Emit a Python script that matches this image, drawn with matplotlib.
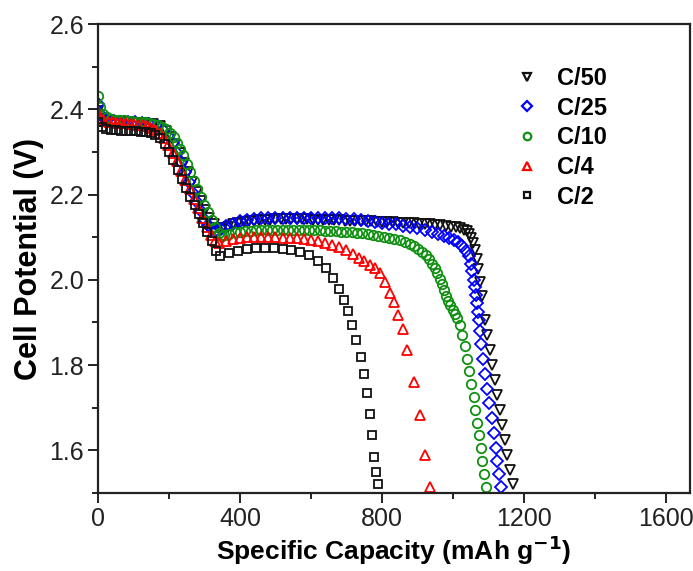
import matplotlib
matplotlib.use("Agg")
import matplotlib.pyplot as plt
from matplotlib.lines import Line2D

plt.rcParams['font.family'] = ['Liberation Sans', 'DejaVu Sans']

# ---------------- data ----------------
labels = ["C/50", "C/25", "C/10", "C/4", "C/2"]

# C/50 (black down-triangles)
x_c50 = [0, 12, 30, 55, 80, 105, 130, 155, 175, 192, 206, 218, 230, 242, 254, 266, 278, 290, 302, 314,
         326, 338, 350, 365, 380, 395, 410, 425, 440, 455, 470, 485, 500, 515, 530, 545, 560, 575, 590,
         605, 620, 635, 650, 665, 680, 695, 710, 725, 740, 755, 770, 785, 800, 815, 830, 845, 860, 875,
         890, 905, 920, 935, 950, 965, 980, 995, 1008, 1020, 1030, 1039, 1046, 1052, 1057, 1062, 1067,
         1071, 1076, 1081, 1090, 1097, 1104, 1111, 1118, 1125, 1132, 1139, 1146, 1153, 1160, 1168]
y_c50 = [2.395, 2.378, 2.372, 2.370, 2.369, 2.368, 2.367, 2.365, 2.360, 2.350, 2.336, 2.318, 2.297, 2.275,
         2.252, 2.229, 2.206, 2.184, 2.163, 2.145, 2.131, 2.122, 2.120, 2.125, 2.130, 2.133, 2.136, 2.138,
         2.139, 2.140, 2.141, 2.141, 2.142, 2.142, 2.142, 2.142, 2.142, 2.142, 2.142, 2.141, 2.141, 2.141,
         2.140, 2.140, 2.140, 2.139, 2.139, 2.138, 2.138, 2.137, 2.137, 2.136, 2.136, 2.135, 2.135, 2.134,
         2.134, 2.133, 2.133, 2.132, 2.131, 2.130, 2.129, 2.128, 2.127, 2.125, 2.123, 2.121, 2.118, 2.114,
         2.108, 2.099, 2.087, 2.070, 2.050, 2.025, 1.995, 1.962, 1.905, 1.870, 1.835, 1.800, 1.765, 1.730,
         1.695, 1.660, 1.625, 1.590, 1.555, 1.520]

# C/25 (blue diamonds)
x_c25 = [0, 10, 25, 45, 65, 85, 105, 125, 145, 165, 182, 197, 210, 222, 233, 244, 255, 266, 277, 288,
         299, 310, 322, 334, 346, 360, 380, 400, 420, 440, 460, 480, 500, 520, 540, 560, 580, 600, 620,
         640, 660, 680, 700, 720, 740, 760, 780, 800, 820, 840, 860, 880, 900, 920, 940, 958, 975, 990,
         1003, 1015, 1026, 1036, 1044, 1050, 1055, 1059, 1063, 1066, 1069, 1071, 1073, 1076, 1080, 1085,
         1091, 1097, 1103, 1109, 1115, 1120, 1125, 1130, 1135]
y_c25 = [2.412, 2.385, 2.375, 2.372, 2.371, 2.370, 2.369, 2.368, 2.366, 2.361, 2.352, 2.338, 2.320, 2.298,
         2.276, 2.253, 2.230, 2.207, 2.185, 2.163, 2.143, 2.128, 2.119, 2.117, 2.119, 2.126, 2.132, 2.137,
         2.140, 2.142, 2.144, 2.145, 2.146, 2.146, 2.146, 2.146, 2.146, 2.146, 2.146, 2.145, 2.145, 2.144,
         2.143, 2.142, 2.140, 2.138, 2.136, 2.134, 2.132, 2.130, 2.127, 2.124, 2.121, 2.117, 2.112, 2.107,
         2.102, 2.098, 2.094, 2.088, 2.079, 2.068, 2.055, 2.038, 2.020, 2.000, 1.982, 1.964, 1.945, 1.925,
         1.905, 1.880, 1.850, 1.815, 1.780, 1.745, 1.710, 1.675, 1.640, 1.605, 1.575, 1.545, 1.515]

# C/10 (green circles)
x_c10 = [0, 6, 14, 24, 36, 48, 60, 72, 84, 96, 108, 120, 132, 144, 156, 168, 180, 192, 203, 213, 222,
         231, 240, 250, 260, 270, 280, 290, 300, 310, 320, 330, 340, 348, 355, 370, 385, 400, 415, 430,
         445, 460, 475, 490, 505, 520, 535, 550, 565, 580, 595, 610, 625, 640, 655, 670, 685, 700, 715,
         730, 745, 760, 775, 790, 805, 820, 835, 850, 865, 878, 890, 902, 913, 923, 932, 941, 949, 956,
         963, 969, 975, 981, 987, 993, 999, 1005, 1012, 1020, 1027, 1034, 1040, 1046, 1052, 1058, 1063,
         1068, 1073, 1078, 1083, 1088, 1093]
y_c10 = [2.430, 2.405, 2.390, 2.382, 2.378, 2.376, 2.375, 2.374, 2.373, 2.372, 2.371, 2.370, 2.369,
         2.368, 2.366, 2.363, 2.359, 2.353, 2.345, 2.335, 2.322, 2.307, 2.292, 2.272, 2.252, 2.232,
         2.212, 2.194, 2.176, 2.158, 2.140, 2.124, 2.110, 2.103, 2.104, 2.108, 2.111, 2.113, 2.114,
         2.115, 2.116, 2.117, 2.117, 2.118, 2.118, 2.118, 2.118, 2.118, 2.118, 2.117, 2.117, 2.116,
         2.116, 2.115, 2.115, 2.114, 2.113, 2.112, 2.111, 2.110, 2.109, 2.107, 2.105, 2.103, 2.101,
         2.099, 2.096, 2.093, 2.089, 2.084, 2.079, 2.073, 2.066, 2.058, 2.049, 2.038, 2.027, 2.015,
         2.003, 1.990, 1.977, 1.963, 1.950, 1.940, 1.930, 1.920, 1.910, 1.895, 1.870, 1.845, 1.815,
         1.785, 1.755, 1.725, 1.695, 1.665, 1.635, 1.605, 1.575, 1.545, 1.515]

# C/4 (red up-triangles)
x_c4 = [0, 8, 18, 30, 42, 54, 66, 78, 90, 102, 114, 126, 138, 150, 162, 174, 186, 198, 210, 222, 234,
        246, 258, 270, 282, 294, 306, 318, 330, 342, 360, 380, 400, 420, 440, 460, 480, 500, 520, 540,
        560, 580, 600, 620, 640, 660, 680, 700, 718, 735, 750, 765, 780, 794, 808, 822, 834, 846, 858,
        870, 890, 907, 921, 935]
y_c4 = [2.392, 2.378, 2.372, 2.370, 2.369, 2.368, 2.368, 2.367, 2.366, 2.365, 2.364, 2.362, 2.360,
        2.357, 2.352, 2.344, 2.332, 2.316, 2.298, 2.278, 2.256, 2.234, 2.212, 2.190, 2.168, 2.146,
        2.124, 2.104, 2.090, 2.086, 2.092, 2.096, 2.099, 2.100, 2.101, 2.101, 2.101, 2.100, 2.099,
        2.098, 2.097, 2.095, 2.093, 2.090, 2.086, 2.082, 2.076, 2.069, 2.061, 2.052, 2.043, 2.035,
        2.027, 2.017, 1.995, 1.970, 1.948, 1.918, 1.885, 1.835, 1.760, 1.684, 1.590, 1.513]

# C/2 (black squares)
x_c2 = [0, 10, 22, 36, 50, 64, 78, 92, 106, 120, 134, 148, 162, 175, 188, 200, 212, 224, 236, 248,
        260, 272, 284, 296, 308, 320, 332, 344, 370, 395, 420, 445, 470, 495, 520, 545, 570, 595, 620,
        643, 662, 678, 692, 704, 716, 728, 740, 750, 759, 766, 773, 779, 784, 789]
y_c2 = [2.370, 2.358, 2.354, 2.352, 2.351, 2.350, 2.350, 2.349, 2.348, 2.347, 2.346, 2.344, 2.340,
        2.332, 2.318, 2.300, 2.280, 2.258, 2.236, 2.215, 2.195, 2.175, 2.155, 2.134, 2.112, 2.090,
        2.068, 2.056, 2.062, 2.068, 2.072, 2.074, 2.075, 2.075, 2.073, 2.070, 2.066, 2.058, 2.045,
        2.028, 2.005, 1.978, 1.952, 1.926, 1.895, 1.860, 1.820, 1.780, 1.735, 1.685, 1.635, 1.585,
        1.550, 1.520]

series_x = [x_c50, x_c25, x_c10, x_c4, x_c2]
series_y = [y_c50, y_c25, y_c10, y_c4, y_c2]
markers = ["v", "D", "o", "^", "s"]
msizes = [7.0, 6.0, 6.8, 7.0, 6.0]
colors = ["#111111", "#0000ff", "#109010", "#ff0000", "#111111"]

x_ticks = [0, 400, 800, 1200, 1600]
y_ticks = [1.6, 1.8, 2.0, 2.2, 2.4, 2.6]

# ---------------- figure ----------------
fig = plt.figure(figsize=(6.93, 5.71), dpi=100)
ax = fig.add_axes([98 / 693, 78 / 571, 592 / 693, 469 / 571])

for xs, ys, m, ms, c, lab in zip(series_x, series_y, markers, msizes, colors, labels):
    ax.plot(xs, ys, linestyle="none", marker=m, markersize=ms, markerfacecolor="none",
            markeredgecolor=c, markeredgewidth=1.3, label=lab, clip_on=True)

ax.set_xlim(0, 1668)
ax.set_ylim(1.5, 2.6)
ax.set_xticks(x_ticks)
ax.set_yticks(y_ticks)
ax.set_xticks([200, 600, 1000, 1400], minor=True)
ax.set_yticks([1.5, 1.7, 1.9, 2.1, 2.3, 2.5], minor=True)
ax.set_yticklabels([f"{v:.1f}" for v in y_ticks])
ax.tick_params(axis="both", which="major", direction="out", length=7, width=1.4,
               labelsize=18, pad=3, colors="#222222", labelcolor="#222222")
ax.tick_params(axis="both", which="minor", direction="out", length=4, width=1.4, colors="#222222")
for s in ax.spines.values():
    s.set_linewidth(1.6)
    s.set_color("#222222")

ax.set_xlabel("Specific Capacity (mAh g$^{\\mathbf{-1}}$)", fontsize=19, fontweight="bold", labelpad=2)
ax.set_ylabel("Cell Potential (V)", fontsize=22, fontweight="bold", labelpad=4)

handles = [Line2D([], [], linestyle="none", marker=m, markersize=ms * 0.8, markerfacecolor="none",
                  markeredgecolor=c, markeredgewidth=1.6)
           for m, ms, c in zip(markers, msizes, colors)]
leg = ax.legend(handles, labels, loc="upper left", bbox_to_anchor=(0.704, 0.908), frameon=False,
                prop={"weight": "bold", "size": 17}, labelspacing=0.28, handletextpad=0.77,
                handlelength=1.0, borderaxespad=0, borderpad=0)

fig.savefig("out.png", dpi=100)
